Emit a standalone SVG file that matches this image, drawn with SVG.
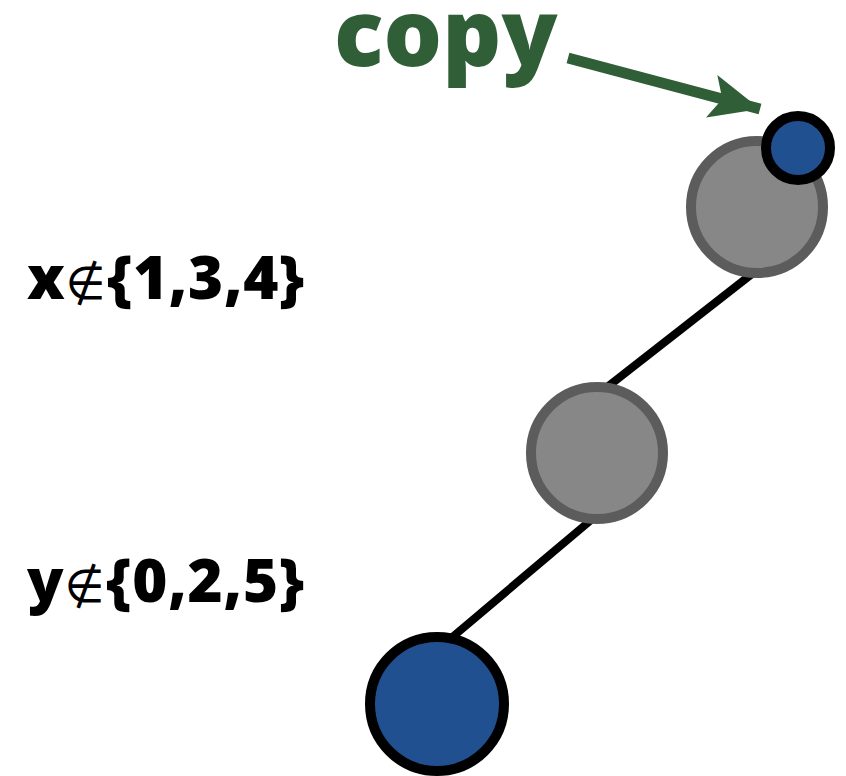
<svg xmlns="http://www.w3.org/2000/svg" width="846" height="776" viewBox="0 0 846 776">
<style>
.lbl{font-family:"Open Sans","Liberation Sans",sans-serif;font-weight:800;font-size:60px;fill:#000}
.sym{font-family:"DejaVu Sans",sans-serif;font-weight:normal;font-size:46px}
.gray{fill:#878787;stroke:#5c5c5c;stroke-width:10}
.blue{fill:#215091;stroke:#000;stroke-width:10}
.edge{stroke:#000;stroke-width:8;fill:none}
</style>
<defs>
<marker id="ah" markerUnits="userSpaceOnUse" markerWidth="52" markerHeight="52" viewBox="0 0 52 52" refX="50" refY="26" orient="auto">
<path d="M0,4 L50,26 L0,48 L11,26 Z" fill="#305e37"/>
</marker>
</defs>
<rect width="846" height="776" fill="#fff"/>
<g id="connectors">
<line class="edge" x1="437" y1="650" x2="597" y2="515"/>
<line class="edge" x1="597" y1="395" x2="757" y2="270"/>
<line x1="568" y1="58" x2="760" y2="109" stroke="#305e37" stroke-width="11" marker-end="url(#ah)"/>
</g>
<g id="node-top"><circle class="gray" cx="757" cy="207" r="66"/></g>
<g id="node-copy"><circle class="blue" cx="798" cy="148" r="32"/></g>
<g id="node-mid"><circle class="gray" cx="597" cy="453" r="66"/></g>
<g id="node-bottom"><circle class="blue" cx="437" cy="704" r="67"/></g>
<g id="label-copy"><text x="334" y="66" font-family="'Open Sans','Liberation Sans',sans-serif" font-weight="800" font-size="92" fill="#305e37">copy</text></g>
<g id="label-x"><text class="lbl" x="27" y="299" textLength="278" lengthAdjust="spacing">x<tspan class="sym">∉</tspan>{1,3,4}</text></g>
<g id="label-y"><text class="lbl" x="27" y="602" textLength="278" lengthAdjust="spacing">y<tspan class="sym">∉</tspan>{0,2,5}</text></g>
</svg>
